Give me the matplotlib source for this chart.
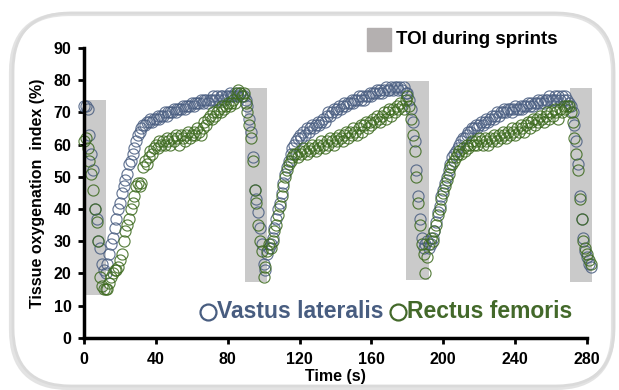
import numpy as np
import matplotlib
matplotlib.use('Agg')
import matplotlib.pyplot as plt
from matplotlib.patches import FancyBboxPatch, Rectangle
from matplotlib.lines import Line2D
from matplotlib.transforms import IdentityTransform

plt.rcParams['font.family'] = ['Liberation Sans', 'DejaVu Sans']
plt.rcParams['font.weight'] = 'bold'

# Vastus lateralis, 1 sample / s, split by phase
vl_sprint1 = [72, 72, 71, 63, 57, 52, 40, 37, 30, 28, 23, 21, 20]
vl_rec1 = [23, 26, 29, 31, 34, 37, 40, 42, 45, 47, 49, 51, 54, 55, 57, 59, 61, 63, 64, 65,
           66, 66, 67, 67, 68, 67, 68, 68, 69, 68, 69, 69, 70, 69, 70, 70, 70, 71, 70, 71,
           71, 71, 72, 71, 72, 72, 72, 73, 72, 73, 73, 73, 74, 73, 74, 74, 73, 74, 74, 75,
           74, 75, 74, 75, 75, 74, 75, 75, 76, 75, 75, 76, 75, 75, 76, 75]
vl_sprint2 = [75, 74, 72, 68, 64, 56, 46, 43, 39, 34, 29, 23, 21]
vl_rec2 = [26, 28, 29, 31, 34, 37, 40, 42, 45, 48, 51, 53, 55, 57, 59, 60, 61, 62, 63, 62,
           64, 63, 65, 64, 65, 66, 65, 66, 67, 66, 67, 68, 67, 69, 70, 69, 70, 71, 70, 71,
           72, 71, 72, 73, 72, 73, 73, 74, 73, 74, 74, 75, 74, 75, 74, 75, 75, 76, 75, 76,
           76, 77, 76, 77, 76, 77, 78, 77, 77, 78, 77, 78, 78, 77, 78, 77, 78, 76]
vl_sprint3 = [76, 74, 71, 67, 61, 52, 44, 37, 31, 28, 29, 30]
vl_rec3 = [28, 29, 31, 33, 36, 39, 41, 44, 46, 48, 50, 52, 54, 56, 57, 58, 59, 60, 61, 62,
           62, 63, 64, 64, 65, 65, 66, 65, 66, 67, 66, 67, 68, 67, 68, 69, 68, 69, 70, 69,
           70, 70, 71, 70, 71, 71, 70, 71, 72, 71, 71, 72, 71, 72, 72, 73, 72, 73, 72, 73,
           73, 74, 73, 74, 73, 74, 74, 75, 74, 74, 75, 74, 75, 74, 75, 74, 75, 74]
vl_sprint4 = [73, 72, 70, 66, 61, 54, 44, 37, 31, 27, 25, 23, 22]

# Rectus femoris
rf_sprint1 = [61, 62, 59, 55, 51, 46, 40, 36, 30, 19, 16, 15, 15]
rf_rec1 = [15, 17, 19, 20, 21, 21, 22, 24, 26, 30, 33, 35, 37, 40, 42, 44, 47, 48, 47, 48,
           53, 55, 54, 56, 58, 57, 59, 60, 59, 61, 60, 61, 60, 62, 61, 60, 62, 61, 63, 62,
           60, 63, 62, 61, 63, 64, 62, 63, 64, 63, 65, 64, 63, 65, 67, 66, 68, 69, 68, 70,
           69, 70, 71, 70, 72, 71, 72, 73, 72, 73, 74, 73, 76, 77, 76, 75]
rf_sprint2 = [76, 73, 70, 66, 62, 55, 46, 42, 35, 30, 27, 19, 22]
rf_rec2 = [27, 29, 28, 30, 33, 35, 38, 41, 44, 47, 50, 52, 54, 55, 56, 57, 57, 56, 58, 57,
           59, 58, 57, 59, 58, 60, 59, 58, 60, 59, 61, 60, 59, 61, 60, 62, 61, 60, 62, 61,
           63, 62, 61, 63, 64, 62, 64, 63, 65, 64, 63, 65, 66, 64, 66, 67, 65, 67, 66, 68,
           67, 69, 68, 67, 69, 70, 68, 70, 71, 69, 71, 70, 72, 71, 73, 72, 71, 74]
rf_sprint3 = [75, 72, 68, 63, 58, 50, 42, 35, 29, 26, 20, 25]
rf_rec3 = [29, 31, 30, 33, 35, 38, 40, 43, 45, 47, 49, 51, 53, 54, 55, 56, 57, 58, 57, 59,
           58, 60, 59, 60, 61, 60, 61, 60, 62, 61, 60, 62, 61, 60, 62, 61, 63, 62, 61, 63,
           62, 64, 63, 62, 64, 63, 65, 64, 63, 65, 64, 66, 65, 64, 66, 67, 65, 67, 68, 66,
           68, 67, 69, 68, 67, 69, 70, 68, 70, 69, 71, 70, 68, 71, 70, 72, 71, 72]
rf_sprint4 = [72, 70, 67, 62, 57, 52, 43, 37, 30, 28, 26, 24, 23]

vl = vl_sprint1 + vl_rec1 + vl_sprint2 + vl_rec2 + vl_sprint3 + vl_rec3 + vl_sprint4
rf = rf_sprint1 + rf_rec1 + rf_sprint2 + rf_rec2 + rf_sprint3 + rf_rec3 + rf_sprint4
time = np.arange(len(vl))

# sprint windows (gray bars)
bar_start = [0, 89.6, 179.4, 270.4]
bar_end = [12.2, 101.8, 191.9, 283.0]
bar_low = [13.3, 17.2, 17.9, 17.4]
bar_high = [73.8, 77.5, 79.8, 77.5]

blue = '#4b5f82'
green = '#3e6b20'

fig = plt.figure(figsize=(6.19, 3.9), dpi=100)

# rounded frame with a soft shadow
shadow = FancyBboxPatch((11, 2), 602, 374, boxstyle='round,pad=0,rounding_size=58',
                        transform=IdentityTransform(), facecolor='none',
                        edgecolor='#b0b0b0', linewidth=3, alpha=0.35)
frame = FancyBboxPatch((13, 4), 601, 373, boxstyle='round,pad=0,rounding_size=58',
                       transform=IdentityTransform(), facecolor='none',
                       edgecolor='#dadada', linewidth=2)
fig.add_artist(shadow)
fig.add_artist(frame)

ax = fig.add_axes([84 / 619, 1 - 337.7 / 390, 503 / 619, 289.7 / 390])

for s, e, lo, hi in zip(bar_start, bar_end, bar_low, bar_high):
    ax.bar(s, hi - lo, width=e - s, bottom=lo, align='edge', color='#cacaca',
           zorder=0, clip_on=False)

ax.plot(time, vl, 'o', mfc='none', mec=blue, ms=8, mew=0.85, alpha=0.85, clip_on=False)
ax.plot(time, rf, 'o', mfc='none', mec=green, ms=8, mew=0.85, alpha=0.85, clip_on=False)

ax.set_xlim(0, 280)
ax.set_ylim(0, 90)
ax.set_xticks(np.arange(0, 281, 40))
ax.set_yticks(np.arange(0, 91, 10))
for side in ['top', 'right']:
    ax.spines[side].set_visible(False)
for side in ['left', 'bottom']:
    ax.spines[side].set_linewidth(2.5)
ax.tick_params(direction='out', length=4, width=2, labelsize=11.5)
ax.tick_params(axis='x', pad=6)
ax.tick_params(axis='y', pad=5)
ax.set_xlabel('Time (s)', fontsize=11.5, fontweight='bold', labelpad=2)
ax.set_ylabel('Tissue oxygenation  index (%)', fontsize=11.5, fontweight='bold', labelpad=6)

# legend for sprint bars
fig.add_artist(Rectangle((367 / 619, 339 / 390), 24 / 619, 23 / 390,
                         transform=fig.transFigure, color='#b4b0b0'))
fig.text(396 / 619, 350 / 390, 'TOI during sprints', fontsize=13.5, fontweight='bold',
         va='center', ha='left')

# muscle legend: open circle marker + name
fig.add_artist(Line2D([208 / 619], [78.3 / 390], transform=fig.transFigure, marker='o',
                      ms=11.5, mfc='none', mec='#485d80', mew=1.6))
fig.text(217 / 619, 78.3 / 390, 'Vastus lateralis', color='#485d80', fontsize=16.5,
         fontweight='bold', va='center', ha='left')
fig.add_artist(Line2D([398 / 619], [78.3 / 390], transform=fig.transFigure, marker='o',
                      ms=11.5, mfc='none', mec='#43692a', mew=1.6))
fig.text(407 / 619, 78.3 / 390, 'Rectus femoris', color='#43692a', fontsize=16.5,
         fontweight='bold', va='center', ha='left')

fig.savefig('out.png', dpi=100)
